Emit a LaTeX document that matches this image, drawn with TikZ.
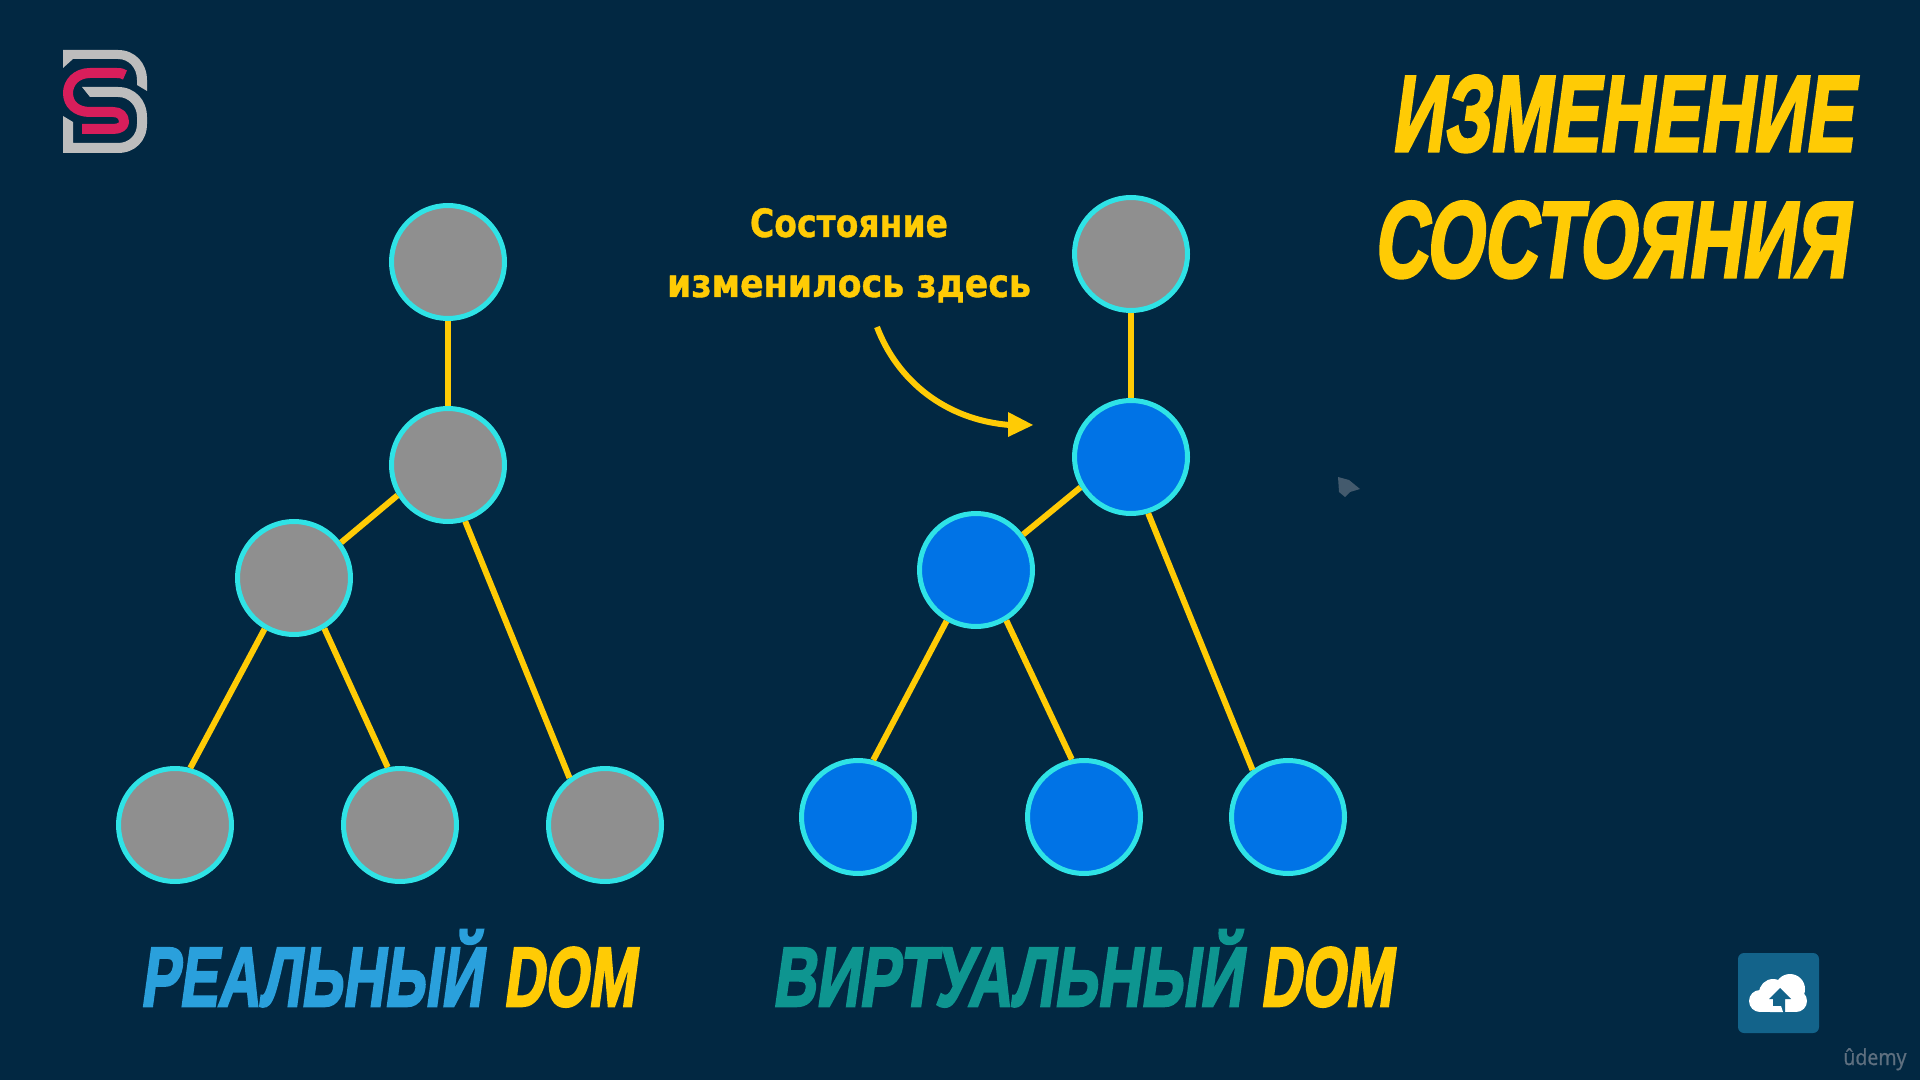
\documentclass[tikz,border=0pt]{standalone}
\usepackage{fontspec}
\usepackage{graphicx}
\setmainfont{Liberation Sans}
\newfontfamily\headfont[FakeSlant=0.2,FakeBold=3]{Liberation Sans Bold}
\newfontfamily\notefont[FakeBold=1]{DejaVu Sans Bold}
\newfontfamily\brandfont[FakeBold=1]{Open Sans}
\definecolor{bgc}{HTML}{022842}
\definecolor{goldc}{HTML}{FFCB05}
\definecolor{ringc}{HTML}{2FE3E6}
\definecolor{grayc}{HTML}{8F8F8F}
\definecolor{bluec}{HTML}{0073E6}
\definecolor{realc}{HTML}{2AA0DC}
\definecolor{virtc}{HTML}{0E9590}
\definecolor{logogray}{HTML}{BDBDBD}
\definecolor{logored}{HTML}{D81E5B}
\definecolor{iconc}{HTML}{13638A}
\definecolor{brandc}{HTML}{5F7080}
\newcommand{\headtext}[3]{\resizebox{#1pt}{\height}{\fontsize{#2pt}{#2pt}\headfont #3}}
\newcommand{\notetext}[2]{\resizebox{#1pt}{\height}{\fontsize{19.5pt}{19.5pt}\notefont #2}}
\tikzset{
  treenode/.style={circle,draw=ringc,line width=2.5pt,minimum size=56.5pt,inner sep=0pt,outer sep=1.25pt},
  oldnode/.style={treenode,fill=grayc},
  newnode/.style={treenode,fill=bluec},
  linkline/.style={draw=goldc,line width=3pt},
  label/.style={anchor=base west,inner sep=0pt,outer sep=0pt},
  notelabel/.style={anchor=base,inner sep=0pt,outer sep=0pt,text=goldc},
}
\begin{document}
\begin{tikzpicture}[x=0.5pt,y=-0.5pt]
\useasboundingbox (0,0) rectangle (1920,1080);
\fill[bgc] (0,0) rectangle (1920,1080);

% logo
\fill[logogray] (63,50) -- (118,50) .. controls (135,50) and (147,63) .. (147,80) -- (147,91) -- (137,85) -- (137,80)
  .. controls (137,68) and (129,59) .. (118,59) -- (73,59) -- (63,68) -- cycle;
\fill[logogray] (82,87) -- (118,87) .. controls (135,87) and (147,100) .. (147,117) -- (147,124)
  .. controls (147,141) and (135,153) .. (118,153) -- (63,153) -- (63,116) -- (73,122) -- (73,143) -- (118,143)
  .. controls (129,143) and (137,135) .. (137,124) -- (137,117) .. controls (137,106) and (129,97) .. (118,97) -- (90,97) -- cycle;
\draw[logored,line width=5pt,line join=round] (125,75) .. controls (122,73) and (120,73) .. (117,73) -- (90,73)
  .. controls (76,73) and (68,83) .. (68,93) .. controls (68,104) and (76,112) .. (90,112) -- (113,112)
  .. controls (120,112) and (124,116) .. (124,122) .. controls (124,126) and (120,129) .. (113,129) -- (82,129);

% real tree
\node[oldnode] (ra) at (448,262) {};
\node[oldnode] (rb) at (448,465) {};
\node[oldnode] (rc) at (294,578) {};
\node[oldnode] (rd) at (175,825) {};
\node[oldnode] (re) at (400,825) {};
\node[oldnode] (rf) at (605,825) {};
% virtual tree
\node[oldnode] (va) at (1131,254) {};
\node[newnode] (vb) at (1131,457) {};
\node[newnode] (vc) at (976,570) {};
\node[newnode] (vd) at (858,817) {};
\node[newnode] (ve) at (1084,817) {};
\node[newnode] (vf) at (1288,817) {};
\draw[linkline] (ra) -- (rb);
\draw[linkline] (rb.211) -- (rc.37);
\draw[linkline] (rb.-73) -- (rf.127);
\draw[linkline] (rc.-120) -- (rd.75);
\draw[linkline] (rc.-59) -- (re.102);
\draw[linkline] (va) -- (vb);
\draw[linkline] (vb.211) -- (vc.37);
\draw[linkline] (vb.-73) -- (vf.127);
\draw[linkline] (vc.-120) -- (vd.75);
\draw[linkline] (vc.-59) -- (ve.102);

% title
\node[label,text=goldc] (t1) at (1391,151) {\headtext{231}{54}{ИЗМЕНЕНИЕ}};
\node[label,text=goldc] (t2) at (1373,277) {\headtext{237}{54}{СОСТОЯНИЯ}};

% captions
\node[label,text=realc] (c1) at (140,1006) {\headtext{171}{42}{РЕАЛЬНЫЙ}};
\node[label,text=goldc] (c2) at (503,1006) {\headtext{66}{42}{DOM}};
\node[label,text=virtc] (c3) at (772,1006) {\headtext{235}{42}{ВИРТУАЛЬНЫЙ}};
\node[label,text=goldc] (c4) at (1260,1006) {\headtext{66}{42}{DOM}};

% note
\node[notelabel] (n1) at (849,237) {\notetext{99}{Состояние}};
\node[notelabel] (n2) at (849,297) {\notetext{182}{изменилось здесь}};
\coordinate (ns) at (877,327);
\coordinate (ne) at (1010,425);
\draw[goldc,line width=3pt] (ns) .. controls (897,380) and (945,420) .. (ne);
\fill[goldc] (1033,425) -- (1008,412) -- (1008,437) -- cycle;

% cursor smudge
\fill[brandc,opacity=.7] (1338,477) -- (1349,480) -- (1360,489) -- (1350,492) -- (1345,497) -- (1339,492) -- cycle;

% upload button
\fill[iconc,rounded corners=3pt] (1738,953) rectangle (1819,1033);
\fill[white] (1760,1001) circle[radius=11];
\fill[white] (1773,993) circle[radius=14];
\fill[white] (1790,989) circle[radius=15];
\fill[white] (1796,1001) circle[radius=11];
\fill[white] (1760,998) rectangle (1796,1012);
\fill[iconc] (1780,988) -- (1791,999) -- (1785,999) -- (1785,1012) -- (1773,1012) -- (1773,999) -- (1769,999) -- cycle;
\fill[white] (1770,1006) -- (1781,1006) -- (1783,1012) -- (1770,1012) -- cycle;

% brand
\node[anchor=base west,inner sep=0pt,text=brandc] (br) at (1843,1065) {\resizebox{31.5pt}{\height}{\fontsize{11pt}{11pt}\brandfont ûdemy}};
\end{tikzpicture}
\end{document}
